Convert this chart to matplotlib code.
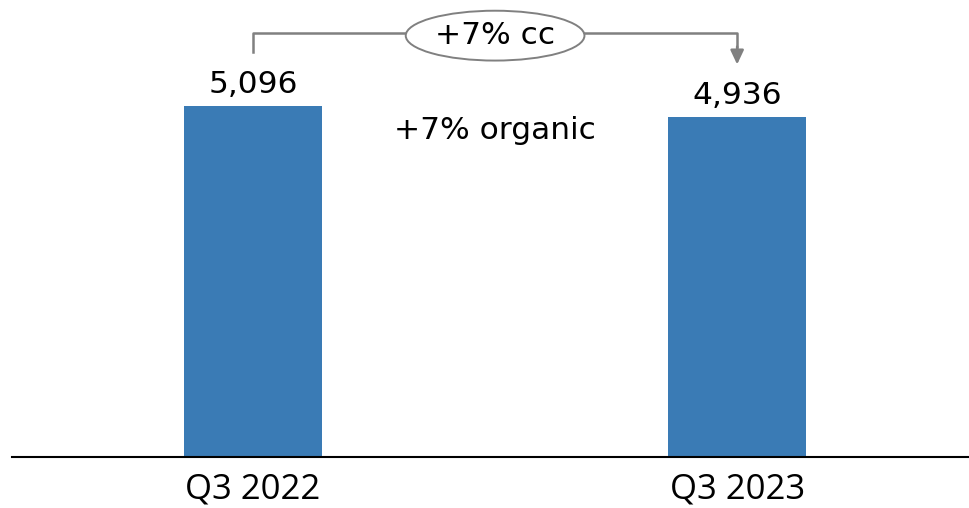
import matplotlib.pyplot as plt

categories = ["Q3 2022", "Q3 2023"]
values = [5096, 4936]
value_labels = ["5,096", "4,936"]
cc_label = "+7% cc"
organic_label = "+7% organic"

BAR_COLOR = "#3a7bb5"
LINE_COLOR = "#808080"

fig = plt.figure(figsize=(9.69, 5.08), dpi=100)
ax = fig.add_axes([12 / 969, 51 / 508, 957 / 969, 457 / 508])

x = list(range(len(categories)))
ax.bar(x, values, width=0.285, color=BAR_COLOR)

ymax = 6635
ax.set_xlim(-0.498, 1.479)
ax.set_ylim(0, ymax)

for xi, v, lab in zip(x, values, value_labels):
    ax.annotate(lab, (xi, v), xytext=(0, 5), textcoords="offset points",
                ha="center", va="bottom", fontsize=22.5, family="DejaVu Sans")

# bracket from first bar to second bar
top = ymax * 0.928
ax.plot([x[0], x[0], x[1], x[1]],
        [values[0] + 0.118 * ymax, top, top, top - 0.03 * ymax],
        color=LINE_COLOR, lw=1.8)
ax.annotate("", xy=(x[1], values[1] + 0.115 * ymax), xytext=(x[1], top - 0.03 * ymax),
            arrowprops=dict(arrowstyle="-|>,head_width=0.4,head_length=0.85",
                            color=LINE_COLOR, lw=1.8, shrinkA=0, shrinkB=0))

mid = (x[0] + x[1]) / 2
ax.text(mid, top - 0.006 * ymax, cc_label, ha="center", va="center", fontsize=22.5,
        family="DejaVu Sans",
        bbox=dict(boxstyle="ellipse,pad=0.1", fc="white", ec=LINE_COLOR, lw=1.4))
ax.text(mid, ymax * 0.715, organic_label, ha="center", va="center", fontsize=22.5,
        family="DejaVu Sans")

ax.set_xticks(x)
ax.set_xticklabels(categories, fontsize=25, family="Open Sans")
ax.tick_params(axis="x", length=0, pad=11)
ax.set_yticks([])
for side in ["top", "left", "right"]:
    ax.spines[side].set_visible(False)
ax.spines["bottom"].set_linewidth(1.5)

fig.savefig("out.png", dpi=100)
